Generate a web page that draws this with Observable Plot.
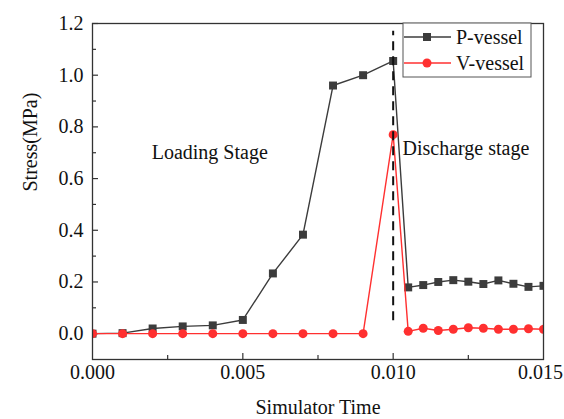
<!DOCTYPE html>
<html>
<head>
<meta charset="utf-8">
<script src="https://cdn.jsdelivr.net/npm/d3@7"></script>
<script src="https://cdn.jsdelivr.net/npm/@observablehq/plot@0.6"></script>
<style>
  html, body { margin: 0; padding: 0; background: #fff; }
</style>
</head>
<body>
<div id="chart"></div>
<script>
// ---- data ----
const times = [0, 0.001, 0.002, 0.003, 0.004, 0.005, 0.006, 0.007, 0.008, 0.009, 0.010,
  0.0105, 0.011, 0.0115, 0.012, 0.0125, 0.013, 0.0135, 0.014, 0.0145, 0.015];
const pVessel = [0, 0.002, 0.02, 0.028, 0.032, 0.053, 0.233, 0.383, 0.96, 1.0, 1.055,
  0.179, 0.188, 0.200, 0.207, 0.201, 0.192, 0.206, 0.193, 0.181, 0.185];
const vVessel = [0, 0, 0, 0, 0, 0, 0, 0, 0, 0, 0.77,
  0.009, 0.021, 0.012, 0.017, 0.023, 0.021, 0.017, 0.017, 0.019, 0.017];
const seriesNames = ["P-vessel", "V-vessel"];
const xTickValues = [0, 0.005, 0.010, 0.015];
const xMinorTicks = [0.0025, 0.0075, 0.0125];
const yTickValues = [0, 0.2, 0.4, 0.6, 0.8, 1.0, 1.2];
const yMinorTicks = [0.1, 0.3, 0.5, 0.7, 0.9, 1.1];
const dividerTime = 0.010;
const dividerRange = [0.05, 1.17];
const loadingNote = [{label: "Loading Stage", x: 0.0039, y: 0.70}];
const dischargeNote = [{label: "Discharge stage", x: 0.01031, y: 0.716}];

// ---- build ----
const W = 564, H = 419;
const mL = 92, mR = 21, mT = 23, mB = 60;
const plotW = W - mL - mR, plotH = H - mT - mB;
const pColor = "#3c3c3c", vColor = "#ff3030";
const FS = 20;

const pData = times.map((t, i) => ({t, v: pVessel[i]}));
const vData = times.map((t, i) => ({t, v: vVessel[i]}));

function legend(index, scales, values, dims) {
  const right = dims.width - dims.marginRight - 12;
  const left = right - 128;
  const top = dims.marginTop;
  const g = d3.create("svg:g");
  g.append("rect").attr("x", left).attr("y", top).attr("width", right - left).attr("height", 54)
    .attr("fill", "white").attr("stroke", "#555").attr("stroke-width", 1);
  const cols = [pColor, vColor];
  seriesNames.forEach((name, i) => {
    const cy = top + 14 + i * 26;
    g.append("line").attr("x1", left + 1).attr("x2", left + 48).attr("y1", cy).attr("y2", cy)
      .attr("stroke", cols[i]).attr("stroke-width", 1.4);
    if (i === 0) {
      g.append("rect").attr("x", left + 24 - 4).attr("y", cy - 4).attr("width", 8).attr("height", 8).attr("fill", cols[i]);
    } else {
      g.append("circle").attr("cx", left + 24).attr("cy", cy).attr("r", 4.5).attr("fill", cols[i]);
    }
    g.append("text").attr("x", left + 53).attr("y", cy).attr("dy", "0.35em")
      .attr("text-anchor", "start").attr("font-size", FS).attr("fill", "#111").text(name);
  });
  return g.node();
}

const chart = Plot.plot({
  width: W, height: H,
  marginLeft: mL, marginRight: mR, marginTop: mT, marginBottom: mB,
  style: {fontFamily: "'Liberation Serif', 'Times New Roman', serif", fontSize: FS + "px", color: "#111", background: "white"},
  x: {domain: [0, 0.015]},
  y: {domain: [-0.1, 1.2]},
  marks: [
    Plot.axisX({ticks: xTickValues.slice(0, -1), tickSize: 0, tickPadding: 5, tickFormat: d => d.toFixed(3), label: null, fontSize: FS}),
    Plot.axisX({ticks: xTickValues.slice(-1), tickSize: 0, tickPadding: 5, tickFormat: d => d.toFixed(3), label: null, fontSize: FS, dx: -3}),
    Plot.axisY({ticks: yTickValues, tickSize: 0, tickPadding: 9, tickFormat: d => d.toFixed(1), label: null, fontSize: FS}),
    Plot.ruleY(yTickValues, {insetRight: plotW - 6, stroke: "#333", strokeWidth: 1.2}),
    Plot.ruleY(yMinorTicks, {insetRight: plotW - 4, stroke: "#333", strokeWidth: 1.2}),
    Plot.ruleX(xTickValues.slice(1, -1), {insetTop: plotH - 6, stroke: "#333", strokeWidth: 1.2}),
    Plot.ruleX(xMinorTicks, {insetTop: plotH - 4, stroke: "#333", strokeWidth: 1.2}),
    Plot.line(pData, {x: "t", y: "v", stroke: pColor, strokeWidth: 1.4, clip: true}),
    Plot.dot(pData, {x: "t", y: "v", symbol: "square", r: 4.5, fill: pColor, clip: true}),
    Plot.line(vData, {x: "t", y: "v", stroke: vColor, strokeWidth: 1.4, clip: true}),
    Plot.dot(vData, {x: "t", y: "v", symbol: "circle", r: 4.5, fill: vColor, clip: true}),
    Plot.ruleX([dividerTime], {y1: dividerRange[0], y2: dividerRange[1], stroke: "#111", strokeWidth: 2, strokeDasharray: "9,6"}),
    Plot.text(loadingNote, {x: "x", y: "y", text: "label", textAnchor: "middle", fill: "#111", fontSize: FS}),
    Plot.text(dischargeNote, {x: "x", y: "y", text: "label", textAnchor: "start", fill: "#111", fontSize: FS}),
    Plot.text(["Simulator Time"], {frameAnchor: "bottom", dy: 54, fill: "#111", fontSize: FS}),
    Plot.text(["Stress(MPa)"], {frameAnchor: "left", dx: -62, rotate: -90, fill: "#111", fontSize: FS}),
    Plot.frame({stroke: "#333", strokeWidth: 1.3}),
    legend
  ]
});
document.getElementById("chart").appendChild(chart);
</script>
</body>
</html>
